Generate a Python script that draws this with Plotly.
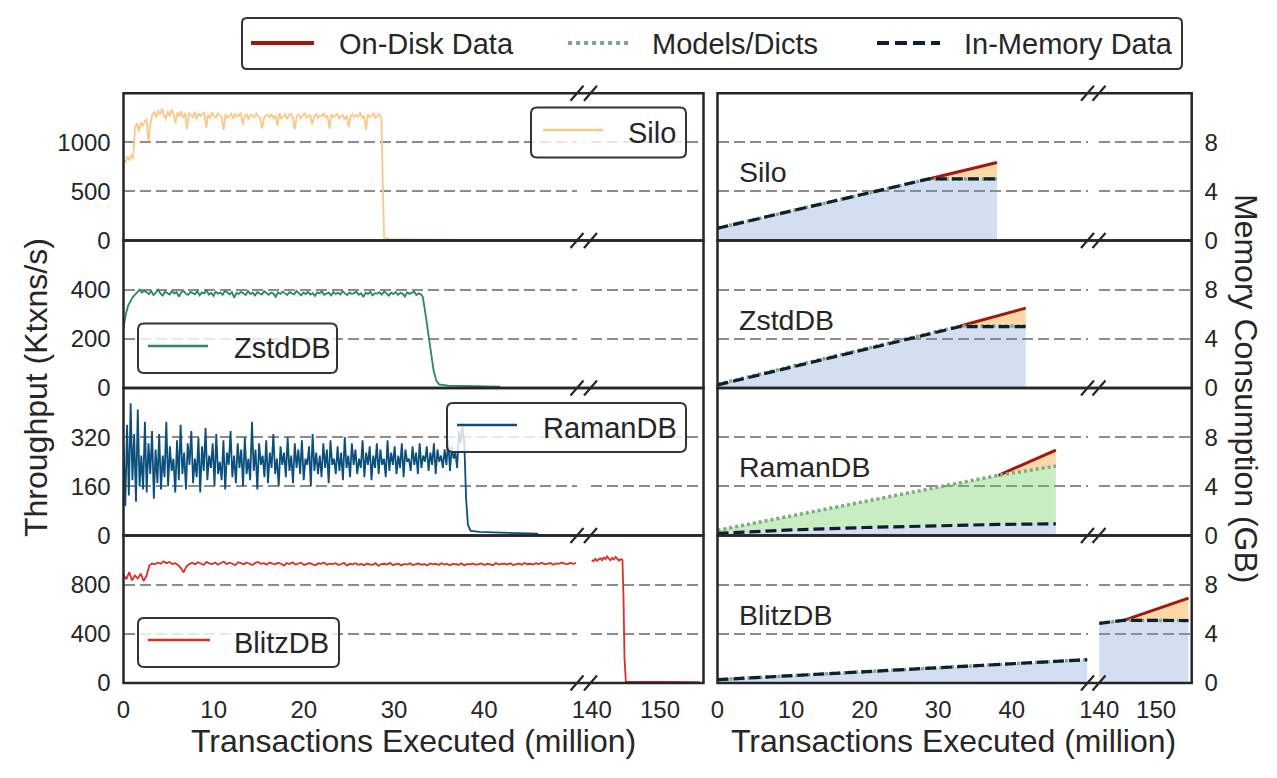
import numpy as np
import plotly.graph_objects as go

W, H = 1277, 778
FONT = "Liberation Sans, Arial, sans-serif"
TXT = "#262626"

# ---------------- throughput data (Ktxns/s) ----------------
silo_tp_end = 28.6
silo_tp = [830, 790, 860, 815, 875, 835,
           1150, 1195, 1110, 1205, 1165, 1215, 1235, 1010, 1190,
           1285, 1305, 1255, 1325, 1280, 1345, 1275, 1240, 1315, 1265, 1335, 1290, 1195, 1305, 1262,
           1318, 1248, 1296, 1135, 1302, 1274, 1258, 1312, 1236, 1294, 1270, 1288, 1302, 1150, 1282,
           1244, 1308, 1266, 1252, 1297, 1278, 1260, 1125, 1289, 1251, 1272, 1293, 1241, 1286, 1268,
           1273, 1301, 1176, 1262, 1292, 1233, 1284, 1271, 1256, 1293, 1262, 1251, 1143, 1245, 1273,
           1281, 1259, 1290, 1247, 1272, 1168, 1298, 1243, 1262, 1284, 1238, 1277, 1291, 1255, 1130,
           1268, 1283, 1246, 1274, 1296, 1252, 1263, 1287, 1181, 1259, 1293, 1242, 1271, 1265, 1300,
           1248, 1276, 1139, 1288, 1257, 1269, 1295, 1244, 1263, 1280, 1235, 1273, 1159, 1266, 1291,
           1254, 1279, 1262, 1303, 1247, 1270, 1128, 1285, 1258, 1272, 1296, 1250, 1266, 1289, 1243]
silo_tail_x = [28.75, 28.9, 29.5, 32.0, 35.0, 37.9]
silo_tail_y = [600, 30, 14, 10, 8, 6]

zstd_tp_end = 33.0
zstd_tp = [245, 300, 335, 355, 370, 380, 392, 400, 388, 395,
           390, 382, 395, 378, 388, 400, 385, 376, 392, 387,
           380, 395, 384, 390, 372, 388, 396, 383, 379, 391,
           386, 381, 394, 377, 389, 385, 398, 380, 387, 375,
           392, 384, 388, 379, 395, 386, 381, 390, 368, 387,
           383, 391, 385, 378, 394, 382, 388, 376, 390, 385,
           380, 393, 386, 379, 388, 384, 371, 389, 383, 392,
           385, 378, 390, 386, 381, 395, 384, 377, 388, 382,
           391, 380, 386, 374, 389, 385, 393, 379, 384, 388,
           376, 390, 383, 387, 380, 394, 385, 378, 389, 382,
           386, 392, 379, 385, 370, 388, 383, 391, 377, 386,
           384, 389, 380, 393, 385, 376, 388, 382, 390, 379,
           387, 384, 372, 389, 383, 386, 392, 378, 385, 381]
zstd_tail_x = [33.2, 33.5, 33.8, 34.1, 34.4, 34.7, 35.0, 36.0, 38.0, 41.8]
zstd_tail_y = [370, 300, 220, 140, 70, 30, 15, 10, 8, 5]

raman_tp_end = 37.4
raman_tp = [300, 95, 360, 130, 430, 180, 330, 110, 410, 160,
            260, 150, 370, 140, 300, 200, 340, 120, 280, 170,
            330, 150, 260, 190, 370, 160, 290, 210, 250, 140,
            310, 180, 360, 200, 270, 150, 300, 230, 340, 170,
            250, 190, 320, 140, 290, 210, 350, 180, 260, 220,
            300, 160, 330, 200, 240, 180, 310, 150, 270, 230,
            340, 190, 260, 170, 300, 220, 280, 160, 320, 200,
            250, 180, 370, 210, 280, 150, 300, 230, 260, 190,
            310, 170, 270, 220, 330, 200, 250, 160, 290, 230,
            270, 190, 320, 210, 260, 170, 300, 220, 280, 200,
            310, 180, 250, 230, 290, 160, 330, 210, 270, 200,
            260, 190, 300, 220, 280, 170, 310, 230, 250, 200,
            290, 210, 270, 180, 320, 220, 260, 190, 300, 230,
            280, 200, 250, 220, 310, 190, 270, 230, 290, 180,
            260, 220, 300, 200, 280, 230, 250, 190, 310, 210,
            270, 230, 290, 200, 260, 220, 300, 190, 280, 240,
            250, 210, 290, 230, 270, 200, 300, 220, 260, 240,
            290, 210, 270, 230, 300, 200, 280, 240, 260, 220,
            280, 230, 310, 210, 290, 250, 270, 220, 340, 300]
raman_tail_x = [37.6, 37.8, 38.0, 38.2, 38.5, 39.5, 41.0, 43.5, 46.0]
raman_tail_y = [355, 300, 120, 35, 15, 12, 10, 8, 6]

blitz_tp_end = 50.2
blitz_tp = [880, 845, 900, 835, 875, 850, 890, 830, 870,
            955, 972, 965, 980, 970, 990, 975, 985, 968,
            975, 960, 935, 900, 950, 968,
            978, 965, 982, 970, 960, 985, 972, 968, 980, 962,
            975, 988, 966, 979, 970, 958, 983, 974, 967, 981,
            972, 960, 977, 985, 969, 975, 963, 980, 971, 966,
            978, 970, 955, 976, 968, 982, 964, 973, 979, 961,
            970, 976, 965, 958, 974, 969, 980, 962, 971, 967,
            975, 960, 968, 978, 955, 970, 965, 974, 962, 969,
            958, 972, 966, 961, 975, 953, 968, 970, 963, 977,
            960, 966, 971, 957, 969, 964, 974, 959, 967, 972,
            962, 968, 956, 973, 965, 970, 960, 975, 964, 969,
            958, 971, 966, 962, 974, 957, 969, 965, 972, 961,
            967, 973, 960, 970, 965, 958, 976, 963, 969, 971,
            964, 975, 960, 968, 972, 962, 977, 966, 970, 963,
            974, 968, 979, 965, 971, 976, 962, 973, 969, 980,
            972, 966, 978, 970, 975]
blitz_tp2_x = [140.0, 140.25, 140.5, 140.75, 141.0, 141.25, 141.5, 141.75, 142.0, 142.25,
               142.5, 142.75, 143.0, 143.25, 143.5, 143.75, 144.0, 144.25, 144.5,
               144.65, 144.8, 145.0, 150.0, 155.8]
blitz_tp2_y = [1000, 990, 1010, 995, 1005, 1015, 998, 1020, 1008, 1030,
               1012, 1000, 1018, 1005, 1025, 1010, 995, 1008, 1000,
               700, 200, 10, 8, 6]

# ---------------- memory data (GB) ----------------
silo_mem_x = [0, 28.7, 38.0]
silo_inmem = [1.0, 5.02, 5.02]
silo_models = [1.0, 5.02, 5.02]
silo_disk = [1.0, 5.02, 6.36]

zstd_mem_x = [0, 33.0, 41.9]
zstd_inmem = [0.25, 5.0, 5.0]
zstd_models = [0.3, 5.05, 5.05]
zstd_disk = [0.3, 5.05, 6.5]

raman_mem_x = [0, 10, 20, 30, 38.2, 46.0]
raman_inmem = [0.18, 0.45, 0.65, 0.8, 0.9, 0.95]
raman_models = [0.42, 1.6, 2.77, 3.93, 4.9, 5.65]
raman_disk = [0.42, 1.6, 2.77, 3.93, 4.9, 6.95]

blitz_mem_x1 = [0, 50.3]
blitz_inmem1 = [0.27, 1.9]
blitz_models1 = [0.27, 1.9]
blitz_disk1 = [0.27, 1.9]
blitz_mem_x2 = [140.0, 144.3, 155.7]
blitz_inmem2 = [4.85, 5.1, 5.08]
blitz_models2 = [4.85, 5.1, 5.08]
blitz_disk2 = [4.85, 5.1, 6.9]

db_names = ["Silo", "ZstdDB", "RamanDB", "BlitzDB"]
tp_colors = ["#fdc785", "#2a8a55", "#0b4f7c", "#dc2e22"]
tp_ranges = [[0, 1500], [0, 600], [0, 480], [0, 1200]]
tp_ticks = [[0, 500, 1000], [0, 200, 400], [0, 160, 320], [0, 400, 800]]
mem_range = [0, 12]
mem_ticks = [0, 4, 8]
x_ticks_a = [0, 10, 20, 30, 40]
x_ticks_b = [140, 150]

DISK_C = "#a0190a"
MODEL_C = "#7dab7d"
MEM_C = "#0d1f33"
BLUE_F = "rgba(108,148,205,0.30)"
GREEN_F = "rgba(101,201,84,0.35)"
ORANGE_F = "rgba(250,152,42,0.40)"

# ---------------- geometry (pixels) ----------------
col_px = [(123.5, 577.0), (590.5, 703.5), (717.5, 1087.5), (1099.0, 1191.7)]
row_px = [(93.3, 240.5), (240.5, 388.0), (388.0, 535.5), (535.5, 683.0)]
x_ranges = [[0, 50.3], [139.82, 156.37], [0, 50.3], [139.95, 156.26]]


def PX(v):
    return v / W


def PY(v):
    return 1 - v / H


def sid(r, c):
    k = r * 4 + c + 1
    return "" if k == 1 else str(k)


fig = go.Figure()
layout = dict(width=W, height=H, margin=dict(l=0, r=0, t=0, b=0, pad=0, autoexpand=False),
              paper_bgcolor="white", plot_bgcolor="rgba(0,0,0,0)", showlegend=False,
              font=dict(family=FONT, color=TXT))

for r in range(4):
    for c in range(4):
        s = sid(r, c)
        is_mem = c >= 2
        xt = x_ticks_a if c in (0, 2) else x_ticks_b
        layout["xaxis" + s] = dict(
            domain=[PX(col_px[c][0]), PX(col_px[c][1])], range=x_ranges[c], automargin=False,
            anchor="y" + s, showgrid=False, zeroline=False, showline=False,
            tickvals=xt, showticklabels=(r == 3), ticks="outside" if r == 3 else "",
            ticklen=5, tickcolor="rgba(0,0,0,0)", tickfont=dict(size=24, color=TXT))
        layout["yaxis" + s] = dict(
            domain=[PY(row_px[r][1]), PY(row_px[r][0])], automargin=False,
            range=mem_range if is_mem else tp_ranges[r],
            anchor="x" + s, showgrid=True, gridcolor="#8c8c8c", griddash="11px,5px",
            gridwidth=1.5, zeroline=False, showline=False,
            tickvals=mem_ticks if is_mem else tp_ticks[r],
            showticklabels=(c == 0 or c == 3), side="right" if c == 3 else "left",
            ticks="outside", ticklen=7, tickcolor="rgba(0,0,0,0)",
            tickfont=dict(size=24, color=TXT))


def add(tr, r, c):
    s = sid(r, c)
    tr.update(xaxis="x" + s, yaxis="y" + s, showlegend=False, hoverinfo="skip")
    fig.add_trace(tr)


# make sure every subplot (including empty break segments) is drawn
for r in range(4):
    for c in range(4):
        add(go.Scatter(x=[], y=[], mode="lines"), r, c)

# throughput traces
tp_sets = [
    (silo_tp, silo_tp_end, silo_tail_x, silo_tail_y),
    (zstd_tp, zstd_tp_end, zstd_tail_x, zstd_tail_y),
    (raman_tp, raman_tp_end, raman_tail_x, raman_tail_y),
    (blitz_tp, blitz_tp_end, [], []),
]
for r, (vals, xend, tx, ty) in enumerate(tp_sets):
    xs = list(np.linspace(0, xend, len(vals))) + list(tx)
    ys = list(vals) + list(ty)
    add(go.Scatter(x=xs, y=ys, mode="lines", line=dict(color=tp_colors[r], width=1.8)), r, 0)
add(go.Scatter(x=blitz_tp2_x, y=blitz_tp2_y, mode="lines", line=dict(color=tp_colors[3], width=1.8)), 3, 1)


def mem_block(x, inmem, models, disk, r, c):
    add(go.Scatter(x=x, y=inmem, mode="lines", line=dict(width=0), fill="tozeroy", fillcolor=BLUE_F), r, c)
    add(go.Scatter(x=x, y=models, mode="lines", line=dict(width=0), fill="tonexty", fillcolor=GREEN_F), r, c)
    add(go.Scatter(x=x, y=disk, mode="lines", line=dict(width=0), fill="tonexty", fillcolor=ORANGE_F), r, c)
    start = None
    for i in range(len(disk)):
        if disk[i] > models[i] + 1e-9:
            start = max(i - 1, 0)
            break
    if start is not None:
        add(go.Scatter(x=x[start:], y=disk[start:], mode="lines",
                       line=dict(color=DISK_C, width=3)), r, c)
    add(go.Scatter(x=x, y=models, mode="lines", line=dict(color=MODEL_C, width=3.5, dash="3px,3px")), r, c)
    add(go.Scatter(x=x, y=inmem, mode="lines", line=dict(color=MEM_C, width=3.2, dash="11px,5px")), r, c)


mem_block(silo_mem_x, silo_inmem, silo_models, silo_disk, 0, 2)
mem_block(zstd_mem_x, zstd_inmem, zstd_models, zstd_disk, 1, 2)
mem_block(raman_mem_x, raman_inmem, raman_models, raman_disk, 2, 2)
mem_block(blitz_mem_x1, blitz_inmem1, blitz_models1, blitz_disk1, 3, 2)
mem_block(blitz_mem_x2, blitz_inmem2, blitz_models2, blitz_disk2, 3, 3)

shapes = []
annotations = []

# frames (spines)
for r in range(4):
    y0, y1 = row_px[r]
    for (xa, xb) in [(col_px[0][0], col_px[1][1]), (col_px[2][0], col_px[3][1])]:
        shapes.append(dict(type="rect", xref="paper", yref="paper", x0=PX(xa), x1=PX(xb),
                           y0=PY(y1), y1=PY(y0), line=dict(color=TXT, width=2.5),
                           fillcolor="rgba(0,0,0,0)", layer="above"))

# break marks
row_edges = [row_px[0][0]] + [rp[1] for rp in row_px]
for cx in [col_px[0][1], col_px[1][0], col_px[2][1], col_px[3][0]]:
    for ey in row_edges:
        shapes.append(dict(type="line", xref="paper", yref="paper",
                           x0=PX(cx - 6.5), y0=PY(ey + 7.5), x1=PX(cx + 6.5), y1=PY(ey - 7.5),
                           line=dict(color=TXT, width=2.2), layer="above"))


def rbox(x0, y0, x1, y1, rad=6, lw=2, fill="rgba(255,255,255,0.8)"):
    rx, ry = rad, rad
    p = (f"M{PX(x0 + rx)},{PY(y0)} L{PX(x1 - rx)},{PY(y0)} Q{PX(x1)},{PY(y0)} {PX(x1)},{PY(y0 + ry)} "
         f"L{PX(x1)},{PY(y1 - ry)} Q{PX(x1)},{PY(y1)} {PX(x1 - rx)},{PY(y1)} "
         f"L{PX(x0 + rx)},{PY(y1)} Q{PX(x0)},{PY(y1)} {PX(x0)},{PY(y1 - ry)} "
         f"L{PX(x0)},{PY(y0 + ry)} Q{PX(x0)},{PY(y0)} {PX(x0 + rx)},{PY(y0)} Z")
    return dict(type="path", xref="paper", yref="paper", path=p,
                line=dict(color="#333333", width=lw), fillcolor=fill, layer="above")


def sample(xa, xb, y, color, width, dash="solid"):
    return dict(type="line", xref="paper", yref="paper", x0=PX(xa), x1=PX(xb), y0=PY(y), y1=PY(y),
                line=dict(color=color, width=width, dash=dash), layer="above")


def label(text, x, y, size):
    return dict(text=text, xref="paper", yref="paper", x=PX(x), y=PY(y), xanchor="left",
                yanchor="middle", showarrow=False, font=dict(size=size, color=TXT, family=FONT))


# per-row throughput legends
row_leg = [
    ((531, 107.5, 686, 157.5), (543, 603, 130), 626),
    ((138, 323.5, 337, 373), (148, 208, 346), 232),
    ((447, 403, 686, 452), (457, 517, 425), 541),
    ((138, 618, 339, 667), (148, 210, 640), 232),
]
for r, (box, smp, tx) in enumerate(row_leg):
    shapes.append(rbox(*box))
    shapes.append(sample(smp[0], smp[1], smp[2], tp_colors[r], 2.5))
    annotations.append(label(db_names[r], tx, (box[1] + box[3]) / 2, 29))

# top legend
shapes.append(rbox(242, 18, 1182, 69, rad=5, fill="white"))
shapes.append(sample(251, 314, 43, DISK_C, 4))
shapes.append(sample(568, 630, 43, MODEL_C, 4, "4px,4px"))
shapes.append(sample(877, 940, 43, MEM_C, 4, "12px,6px"))
annotations.append(label("On-Disk Data", 337, 43.5, 29))
annotations.append(label("Models/Dicts", 650, 43.5, 29))
annotations.append(label("In-Memory Data", 962, 43.5, 29))

# DB labels in memory panels
for r in range(4):
    s = sid(r, 2)
    annotations.append(dict(text=db_names[r], xref="x" + s, yref="y" + s, x=2.6, y=5.55,
                            xanchor="left", yanchor="middle", showarrow=False,
                            font=dict(size=28.5, color=TXT, family=FONT)))

# axis titles
for cx in (413, 953):
    annotations.append(dict(text="Transactions Executed (million)", xref="paper", yref="paper",
                            x=PX(cx), y=PY(741), xanchor="center", yanchor="middle", showarrow=False,
                            font=dict(size=32, color=TXT, family=FONT)))
annotations.append(dict(text="Throughput (Ktxns/s)", xref="paper", yref="paper",
                        x=PX(36), y=PY(388), xanchor="center", yanchor="middle", showarrow=False,
                        textangle=-90, font=dict(size=32, color=TXT, family=FONT)))
annotations.append(dict(text="Memory Consumption (GB)", xref="paper", yref="paper",
                        x=PX(1246), y=PY(388), xanchor="center", yanchor="middle", showarrow=False,
                        textangle=90, font=dict(size=32, color=TXT, family=FONT)))

layout["shapes"] = shapes
layout["annotations"] = annotations
fig.update_layout(**layout)
fig.write_html("out.html", config={"displayModeBar": False},
               post_script="document.body.style.margin='0px';")
